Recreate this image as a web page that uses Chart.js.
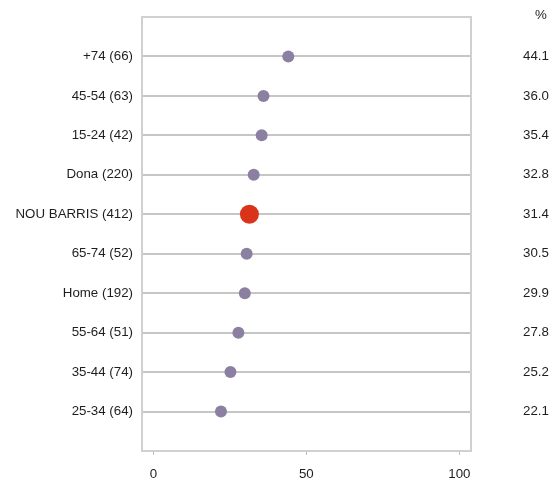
<!DOCTYPE html>
<html>
<head>
<meta charset="utf-8">
<script src="https://cdn.jsdelivr.net/npm/chart.js@4"></script>
<style>
html,body{margin:0;padding:0;background:#fff;}
#wrap{width:550px;height:478px;position:relative;}
</style>
</head>
<body>
<div id="wrap"><canvas id="c" width="550" height="478"></canvas></div>
<script>
const categories = ['+74 (66)','45-54 (63)','15-24 (42)','Dona (220)','NOU BARRIS (412)','65-74 (52)','Home (192)','55-64 (51)','35-44 (74)','25-34 (64)'];
const values = [44.1, 36.0, 35.4, 32.8, 31.4, 30.5, 29.9, 27.8, 25.2, 22.1];
const valueLabels = ['44.1','36.0','35.4','32.8','31.4','30.5','29.9','27.8','25.2','22.1'];
const highlight = 'NOU BARRIS (412)';
const xTicks = [0, 50, 100];

const FONT = 'Liberation Sans, Arial, sans-serif';
const FS = 13.3;
const purple = '#8c80a2';
const red = '#d93419';

const boxPlugin = {
  id: 'box',
  beforeDatasetsDraw(chart) {
    const {ctx, chartArea: a} = chart;
    ctx.save();
    ctx.strokeStyle = '#d0d0d0';
    ctx.lineWidth = 2;
    ctx.strokeRect(a.left, a.top, a.right - a.left, a.bottom - a.top);
    ctx.restore();
  },
  afterDraw(chart) {
    const {ctx} = chart;
    const ys = chart.scales.y;
    ctx.save();
    ctx.font = FS + 'px ' + FONT;
    ctx.fillStyle = '#1e1e1e';
    ctx.textBaseline = 'middle';
    ctx.textAlign = 'center';
    ctx.fillText('%', 541, 15);
    ctx.textAlign = 'left';
    valueLabels.forEach((t, i) => {
      ctx.fillText(t, 523, ys.getPixelForValue(i));
    });
    ctx.restore();
  }
};

new Chart(document.getElementById('c'), {
  type: 'scatter',
  data: {
    datasets: [{
      data: values.map((v, i) => ({x: v, y: i})),
      backgroundColor: categories.map(c => c === highlight ? red : purple),
      borderWidth: 0,
      pointRadius: categories.map(c => c === highlight ? 9.5 : 6),
      pointHoverRadius: categories.map(c => c === highlight ? 9.5 : 6)
    }]
  },
  options: {
    responsive: false,
    animation: false,
    devicePixelRatio: 1,
    layout: {padding: {left: 0, right: 79, top: 17, bottom: 0}},
    plugins: {legend: {display: false}, tooltip: {enabled: false}},
    scales: {
      x: {
        type: 'linear',
        min: -3.7,
        max: 103.8,
        afterBuildTicks: ax => { ax.ticks = xTicks.map(v => ({value: v})); },
        afterFit: ax => { ax.height = 27; },
        border: {display: false},
        grid: {drawOnChartArea: false, drawTicks: true, tickLength: 4, color: '#bdbdbd', lineWidth: 1},
        ticks: {font: {size: FS, family: FONT}, color: '#1e1e1e', padding: 11, maxRotation: 0}
      },
      y: {
        type: 'linear',
        min: -1,
        max: 10,
        reverse: true,
        afterBuildTicks: ax => { ax.ticks = Array.from({length: 12}, (_, k) => ({value: k - 1})); },
        afterFit: ax => { ax.width = 142; },
        border: {display: false},
        grid: {
          drawTicks: false,
          lineWidth: 2,
          color: c => (c.tick && c.tick.value >= 0 && c.tick.value < categories.length) ? '#c6c6c6' : 'rgba(0,0,0,0)'
        },
        ticks: {
          font: {size: FS, family: FONT},
          color: '#1e1e1e',
          padding: 9,
          autoSkip: false,
          callback: v => categories[v] !== undefined ? categories[v] : ''
        }
      }
    }
  },
  plugins: [boxPlugin]
});
</script>
</body>
</html>
